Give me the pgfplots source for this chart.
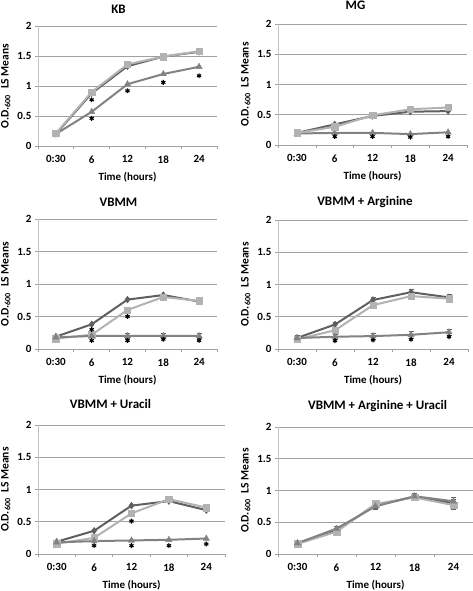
\documentclass[border=0pt]{standalone}
\usepackage{fontspec}
\setmainfont{Carlito}
\usepackage{pgfplots}
\pgfplotsset{compat=1.18}
\definecolor{cdark}{RGB}{95,95,95}
\definecolor{clight}{RGB}{178,178,178}
\definecolor{cmed}{RGB}{130,130,130}
\definecolor{cgrid}{RGB}{160,160,160}
\definecolor{cyax}{RGB}{195,195,195}
\pgfplotsset{
  panel/.style={
    scale only axis, anchor=south west,
    xmin=-0.5, xmax=4.5, ymin=0, ymax=2,
    xtick={-0.5,0.5,1.5,2.5,3.5,4.5},
    xticklabels={0:30,6,12,18,24},
    x tick label as interval,
    ytick={0,0.5,1,1.5,2},
    yticklabels={0,0.5,1,1.5,2},
    axis x line*=bottom, axis y line*=left,
    x axis line style={draw=cgrid, line width=0.8pt, -},
    y axis line style={draw=cyax, line width=0.8pt, -},
    tick align=outside, major tick length=3pt,
    xtick style={draw=cgrid, line width=0.6pt},
    ytick style={draw=cgrid, line width=0.6pt},
    ymajorgrids, grid style={draw=cgrid, line width=0.7pt},
    /pgf/number format/assume math mode=true,
    ticklabel style={font=\fontsize{11}{13}\selectfont\bfseries, text=black},
    xticklabel style={yshift=-3pt},
    xlabel={Time (hours)},
    ylabel={O.D.\textsubscript{600}\enspace LS Means},
    label style={font=\fontsize{11.5}{13}\selectfont\bfseries},
    xlabel style={font=\fontsize{11}{13}\selectfont\bfseries, at={(axis description cs:0.5,0)}, anchor=center, yshift=-31pt},
    every axis title shift=0pt,
    title style={font=\fontsize{13}{15}\selectfont\bfseries, anchor=center, at={(axis description cs:0.5,1)}},
    clip=false,
  },
  sdark/.style={draw=cdark, line width=2pt, mark=diamond*, mark size=3.4pt, mark options={fill=cdark, draw=cdark, line width=0.4pt}},
  slight/.style={draw=clight, line width=2pt, mark=square*, mark size=3.2pt, mark options={fill=clight, draw=clight, line width=0.4pt}},
  smed/.style={draw=cmed, line width=2pt, mark=triangle*, mark size=3.6pt, mark options={fill=cmed, draw=cmed, line width=0.4pt}},
  sast/.style={only marks, mark=asterisk, mark size=2.4pt, mark options={draw=black, line width=1.1pt}},
  ebar/.style={error bars/.cd, y dir=both, y explicit, error bar style={draw=cdark, line width=0.6pt}, error mark options={rotate=90, mark size=2.5pt, draw=cdark}},
}
\begin{document}
\begin{tikzpicture}
\path[use as bounding box] (0,0) rectangle (473pt,591pt);

% KB
\begin{axis}[panel, at={(38pt,445pt)}, width=179pt, height=120pt,
  title={KB}, title style={xshift=-9pt, yshift=17pt}]
\addplot[sdark] coordinates {(0,0.2) (1,0.88) (2,1.33) (3,1.49) (4,1.57)};
\addplot[smed] coordinates {(0,0.2) (1,0.57) (2,1.03) (3,1.2) (4,1.32)};
\addplot[slight] coordinates {(0,0.21) (1,0.9) (2,1.36) (3,1.49) (4,1.58)};
\addplot[sast] coordinates {(1,0.77) (1,0.46) (2,0.92) (3,1.06) (4,1.17)};
\end{axis}

% MG
\begin{axis}[panel, at={(278pt,446pt)}, width=189pt, height=121pt,
  title={MG}, title style={xshift=-17pt, yshift=19pt}]
\addplot[sdark] coordinates {(0,0.2) (1,0.34) (2,0.48) (3,0.55) (4,0.56)};
\addplot[smed] coordinates {(0,0.19) (1,0.2) (2,0.2) (3,0.18) (4,0.21)};
\addplot[slight] coordinates {(0,0.2) (1,0.3) (2,0.49) (3,0.59) (4,0.62)};
\addplot[sast] coordinates {(1,0.14) (2,0.14) (3,0.13) (4,0.14)};
\end{axis}

% VBMM
\begin{axis}[panel, at={(38pt,242pt)}, width=179pt, height=130pt,
  title={VBMM}, title style={xshift=-9pt, yshift=17pt}]
\addplot[sdark] coordinates {(0,0.19) (1,0.38) (2,0.76) (3,0.83) (4,0.73)};
\addplot[slight] coordinates {(0,0.16) (1,0.22) (2,0.6) (3,0.8) (4,0.74)};
\addplot[smed, ebar] coordinates {(0,0.18) +- (0,0.03) (1,0.2) +- (0,0.04) (2,0.2) +- (0,0.04) (3,0.2) +- (0,0.04) (4,0.2) +- (0,0.04)};
\addplot[sast] coordinates {(1,0.30) (1,0.13) (2,0.5) (2,0.13) (3,0.15) (4,0.13)};
\end{axis}

% VBMM + Arginine
\begin{axis}[panel, at={(278pt,242pt)}, width=190pt, height=129pt,
  title={VBMM + Arginine}, title style={xshift=-8pt, yshift=18pt}]
\addplot[sdark, ebar] coordinates {(0,0.17) +- (0,0.04) (1,0.38) +- (0,0.04) (2,0.76) +- (0,0.05) (3,0.88) +- (0,0.05) (4,0.8) +- (0,0.05)};
\addplot[slight, ebar] coordinates {(0,0.15) +- (0,0.04) (1,0.29) +- (0,0.04) (2,0.68) +- (0,0.05) (3,0.82) +- (0,0.05) (4,0.78) +- (0,0.05)};
\addplot[smed, ebar] coordinates {(0,0.17) +- (0,0.04) (1,0.19) +- (0,0.04) (2,0.2) +- (0,0.05) (3,0.22) +- (0,0.05) (4,0.26) +- (0,0.05)};
\addplot[sast] coordinates {(1,0.13) (2,0.14) (3,0.15) (4,0.19)};
\end{axis}

% VBMM + Uracil
\begin{axis}[panel, at={(38pt,37pt)}, width=187pt, height=129pt,
  title={VBMM + Uracil}, title style={xshift=-21pt, yshift=21pt}]
\addplot[sdark] coordinates {(0,0.19) (1,0.36) (2,0.75) (3,0.82) (4,0.68)};
\addplot[slight] coordinates {(0,0.16) (1,0.25) (2,0.63) (3,0.85) (4,0.72)};
\addplot[smed] coordinates {(0,0.18) (1,0.2) (2,0.21) (3,0.22) (4,0.24)};
\addplot[sast] coordinates {(1,0.13) (2,0.51) (2,0.13) (3,0.13) (4,0.155)};
\end{axis}

% VBMM + Arginine + Uracil
\begin{axis}[panel, at={(278pt,37pt)}, width=195pt, height=127pt,
  title={VBMM + Arginine + Uracil}, title style={xshift=2pt, yshift=21pt}]
\addplot[sdark, ebar] coordinates {(0,0.17) +- (0,0.04) (1,0.37) +- (0,0.04) (2,0.77) +- (0,0.05) (3,0.9) +- (0,0.05) (4,0.8) +- (0,0.06)};
\addplot[slight, ebar] coordinates {(0,0.16) +- (0,0.04) (1,0.35) +- (0,0.04) (2,0.79) +- (0,0.05) (3,0.89) +- (0,0.05) (4,0.77) +- (0,0.06)};
\addplot[smed, ebar] coordinates {(0,0.17) +- (0,0.04) (1,0.4) +- (0,0.04) (2,0.75) +- (0,0.05) (3,0.91) +- (0,0.05) (4,0.83) +- (0,0.06)};
\end{axis}
\end{tikzpicture}
\end{document}
